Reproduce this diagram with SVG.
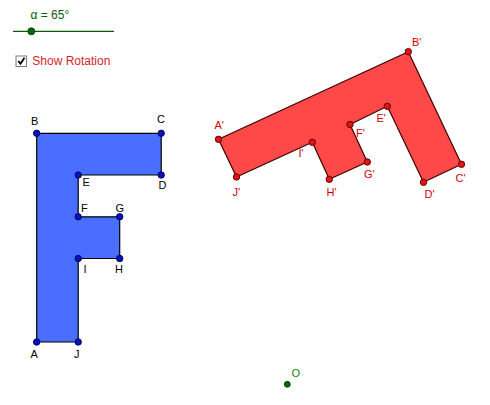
<svg xmlns="http://www.w3.org/2000/svg" width="490" height="405" viewBox="0 0 490 405">
<style>
text{font-family:"Liberation Sans",Arial,sans-serif;font-size:11px}
.bl{fill:#000}
.rl{fill:#d00000}
.bp{fill:#0a14b4;stroke:#00006e;stroke-width:1}
.rp{fill:#e01414;stroke:#640000;stroke-width:1}
.shape{stroke-width:1.2;stroke-linejoin:miter}
</style>
<rect width="490" height="405" fill="#fff"/>
<g id="slider">
<line x1="13" y1="31.3" x2="114" y2="31.3" stroke="#0b5a0b" stroke-width="1.2"/>
<circle cx="31.3" cy="31.3" r="3.5" fill="#0b640b" stroke="#003c00" stroke-width="0.8"/>
<text x="30.5" y="18.5" style="fill:#0b5a0b;font-size:12px">α = 65°</text>
</g>
<g id="checkbox">
<rect x="16" y="56" width="10.5" height="10.5" fill="#fff" stroke="#7a7a7a" stroke-width="1"/>
<path d="M18.3 61 L20.5 63.8 L24.5 57.8" fill="none" stroke="#000" stroke-width="1.8"/>
<text x="32.3" y="65.3" style="fill:#d41f2a;font-size:12px">Show Rotation</text>
</g>
<g id="connectors">
<polygon id="polyF" class="shape" points="36.7,342 36.7,133.3 161.2,133.3 161.2,175 78.2,175 78.2,216.8 119.7,216.8 119.7,258.5 78.2,258.5 78.2,342" fill="#4a6eff" stroke="#000"/>
<polygon id="polyF2" class="shape" points="218.5,139.3 408.3,51.7 461.5,164.3 423.5,182.3 387.3,106.3 350,124.5 367.3,162 329.3,179.3 312.3,142.3 236.5,177" fill="#ff4848" stroke="#3c0000"/>
</g>
<g id="A"><circle class="bp" cx="36.7" cy="342" r="3.2"/><text class="bl" x="30.5" y="358">A</text></g>
<g id="B"><circle class="bp" cx="36.7" cy="133.3" r="3.2"/><text class="bl" x="31" y="125">B</text></g>
<g id="C"><circle class="bp" cx="161.2" cy="133.3" r="3.2"/><text class="bl" x="157" y="123">C</text></g>
<g id="D"><circle class="bp" cx="161.2" cy="175" r="3.2"/><text class="bl" x="158.5" y="189">D</text></g>
<g id="E"><circle class="bp" cx="78.2" cy="175" r="3.2"/><text class="bl" x="82.5" y="186">E</text></g>
<g id="F"><circle class="bp" cx="78.2" cy="216.8" r="3.2"/><text class="bl" x="81" y="212">F</text></g>
<g id="G"><circle class="bp" cx="119.7" cy="216.8" r="3.2"/><text class="bl" x="115.5" y="212">G</text></g>
<g id="H"><circle class="bp" cx="119.7" cy="258.5" r="3.2"/><text class="bl" x="115" y="273">H</text></g>
<g id="I"><circle class="bp" cx="78.2" cy="258.5" r="3.2"/><text class="bl" x="83.5" y="273">I</text></g>
<g id="J"><circle class="bp" cx="78.2" cy="342" r="3.2"/><text class="bl" x="74" y="358">J</text></g>
<g id="A_"><circle class="rp" cx="218.5" cy="139.3" r="3.2"/><text class="rl" x="214.5" y="128.5">A'</text></g>
<g id="B_"><circle class="rp" cx="408.3" cy="51.7" r="3.2"/><text class="rl" x="412" y="45.5">B'</text></g>
<g id="C_"><circle class="rp" cx="461.5" cy="164.3" r="3.2"/><text class="rl" x="455.5" y="181.5">C'</text></g>
<g id="D_"><circle class="rp" cx="423.5" cy="182.3" r="3.2"/><text class="rl" x="424.5" y="198">D'</text></g>
<g id="E_"><circle class="rp" cx="387.3" cy="106.3" r="3.2"/><text class="rl" x="376.5" y="122">E'</text></g>
<g id="F_"><circle class="rp" cx="350" cy="124.5" r="3.2"/><text class="rl" x="356" y="137">F'</text></g>
<g id="G_"><circle class="rp" cx="367.3" cy="162" r="3.2"/><text class="rl" x="364" y="178">G'</text></g>
<g id="H_"><circle class="rp" cx="329.3" cy="179.3" r="3.2"/><text class="rl" x="326.5" y="196">H'</text></g>
<g id="I_"><circle class="rp" cx="312.3" cy="142.3" r="3.2"/><text class="rl" x="298.5" y="156.5">I'</text></g>
<g id="J_"><circle class="rp" cx="236.5" cy="177" r="3.2"/><text class="rl" x="232.5" y="195.5">J'</text></g>
<g id="O"><circle cx="287.3" cy="384.3" r="3" fill="#0b640b" stroke="#003c00" stroke-width="0.8"/><text x="291.5" y="377" style="fill:#0b8a0b">O</text></g>
</svg>
